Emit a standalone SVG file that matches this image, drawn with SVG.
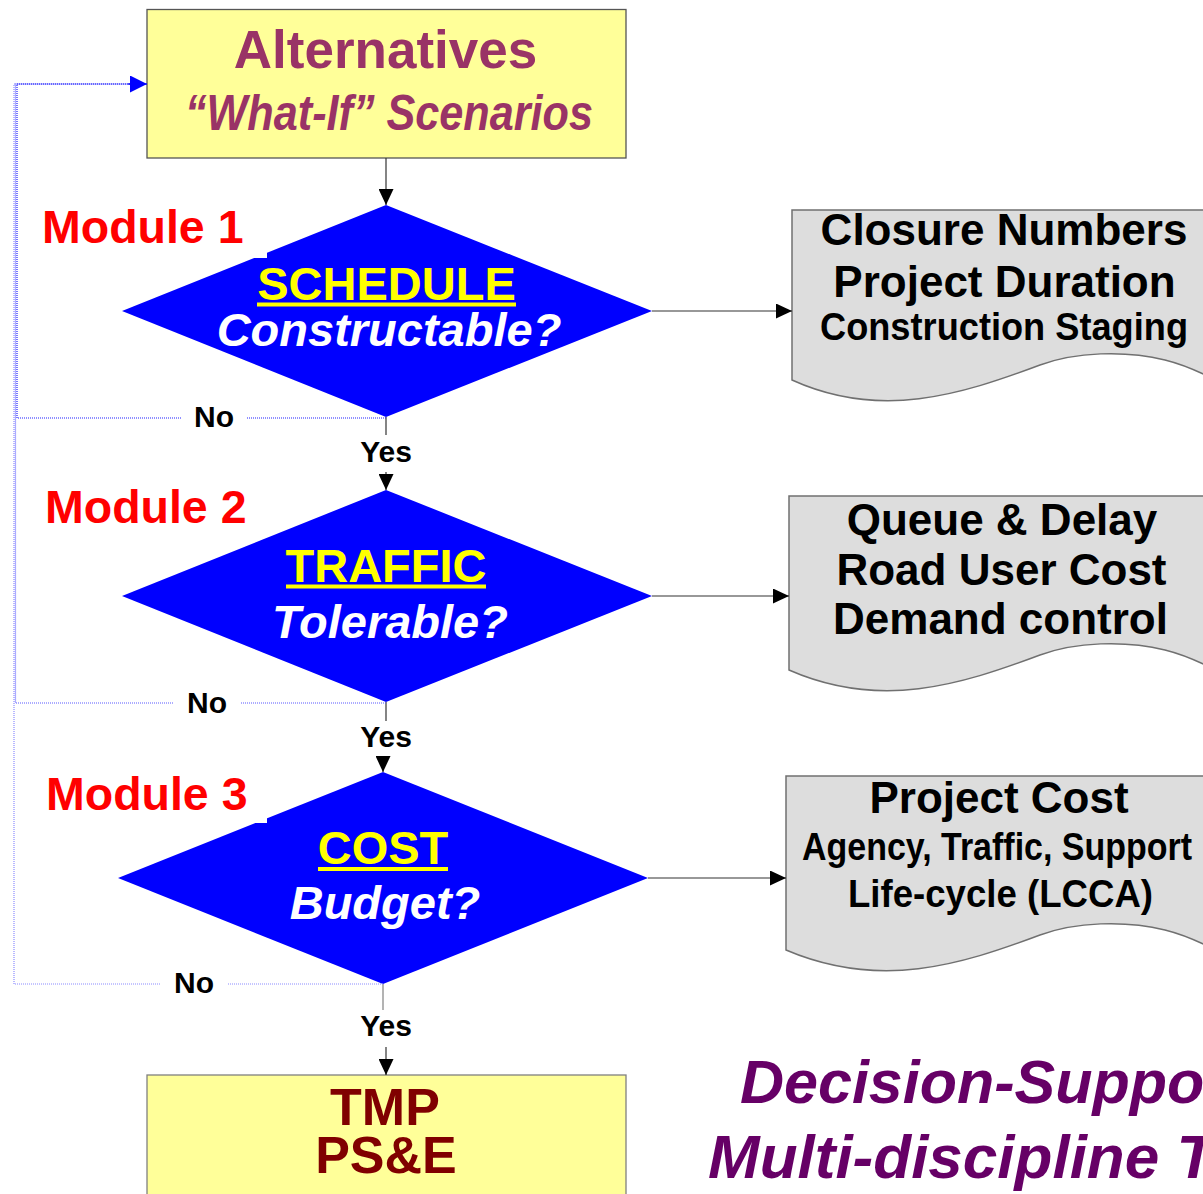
<svg xmlns="http://www.w3.org/2000/svg" width="1203" height="1194" viewBox="0 0 1203 1194">
  <style>
    .sans { font-family: "Liberation Sans", Arial, sans-serif; font-weight: bold; }
    .ital { font-style: italic; }
    .box { fill: #FFFF99; stroke: #555555; stroke-width: 1.3; }
    .dia { fill: #0000FF; }
    .doc { fill: #DDDDDD; stroke: #707070; stroke-width: 1.5; }
    .mod { fill: #FF0000; font-size: 46.5px; }
    .head { fill: #FFFF00; font-size: 47px; }
    .q { fill: #FFFFFF; font-size: 47px; }
    .lbl { fill: #000000; font-size: 30px; }
    .out { fill: #000000; font-size: 44px; }
    .outn { fill: #000000; font-size: 39px; }
    .link { stroke: #333333; stroke-width: 1.2; fill: none; }
    .loop { stroke-width: 1.2; fill: none; stroke-dasharray: 1 1; }
  </style>
  <defs>
    <marker id="ah" markerWidth="16" markerHeight="15" refX="16" refY="7.5" orient="auto" markerUnits="userSpaceOnUse">
      <path d="M0,0 L16,7.5 L0,15 Z" fill="#000000"/>
    </marker>
    <marker id="ahBlue" markerWidth="17" markerHeight="17" refX="17" refY="8.5" orient="auto" markerUnits="userSpaceOnUse">
      <path d="M0,0 L17,8.5 L0,17 Z" fill="#0000FF"/>
    </marker>
  </defs>

  <rect x="0" y="0" width="1203" height="1194" fill="#FFFFFF"/>

  <!-- start box -->
  <g id="alternatives">
    <rect class="box" x="147" y="9.5" width="479" height="148.5"/>
    <text class="sans" x="385.5" y="68" font-size="53" fill="#993366" text-anchor="middle">Alternatives</text>
    <text class="sans ital" x="389" y="130" font-size="50" fill="#993366" text-anchor="middle" textLength="408" lengthAdjust="spacingAndGlyphs">“What-If” Scenarios</text>
  </g>

  <!-- decision: schedule -->
  <g id="module1">
    <polygon class="dia" points="386,205 652,311 386,417 122,311"/>
    <rect x="30" y="200" width="237" height="58" fill="#FFFFFF"/>
    <text class="sans mod" x="42" y="243">Module 1</text>
    <text class="sans head" x="386.5" y="300" text-anchor="middle">SCHEDULE</text>
    <rect x="257" y="302.5" width="259" height="4" fill="#FFFF00"/>
    <text class="sans ital q" x="389" y="346" text-anchor="middle">Constructable?</text>
  </g>

  <!-- decision: traffic -->
  <g id="module2">
    <polygon class="dia" points="386,490 652,596 386,702 122,596"/>
    <text class="sans mod" x="45" y="523">Module 2</text>
    <text class="sans head" x="386" y="582" text-anchor="middle">TRAFFIC</text>
    <rect x="286" y="584.5" width="200" height="4" fill="#FFFF00"/>
    <text class="sans ital q" x="390" y="638" text-anchor="middle">Tolerable?</text>
  </g>

  <!-- decision: cost -->
  <g id="module3">
    <polygon class="dia" points="383,772 648,878 383,984 118,878"/>
    <rect x="30" y="765" width="237" height="58" fill="#FFFFFF"/>
    <text class="sans mod" x="46" y="810">Module 3</text>
    <text class="sans head" x="383" y="864" text-anchor="middle">COST</text>
    <rect x="318" y="867" width="130" height="4" fill="#FFFF00"/>
    <text class="sans ital q" x="385" y="919" text-anchor="middle">Budget?</text>
  </g>

  <!-- outputs -->
  <g id="output1">
    <path class="doc" d="M792,380 V210 H1215 V380 C1200,372 1185,365 1165,360 C1125,350 1075,352 1040,365 C960,395 880,420 792,380 Z"/>
    <text class="sans out" x="1004" y="245" text-anchor="middle">Closure Numbers</text>
    <text class="sans out" x="1004.5" y="297" text-anchor="middle">Project Duration</text>
    <text class="sans outn" x="1004" y="340" text-anchor="middle" textLength="368" lengthAdjust="spacingAndGlyphs">Construction Staging</text>
  </g>

  <g id="output2">
    <path class="doc" d="M789,670 V496 H1215 V670 C1200,662 1185,655 1165,650 C1125,640 1075,642 1040,655 C960,685 880,710 789,670 Z"/>
    <text class="sans out" x="1002" y="535" text-anchor="middle">Queue &amp; Delay</text>
    <text class="sans out" x="1001.5" y="585" text-anchor="middle">Road User Cost</text>
    <text class="sans out" x="1000.5" y="634" text-anchor="middle">Demand control</text>
  </g>

  <g id="output3">
    <path class="doc" d="M786,950 V776 H1215 V950 C1200,942 1185,935 1165,930 C1125,920 1075,922 1040,935 C960,965 880,990 786,950 Z"/>
    <text class="sans out" x="999" y="813" text-anchor="middle">Project Cost</text>
    <text class="sans outn" x="997" y="860" text-anchor="middle" textLength="390" lengthAdjust="spacingAndGlyphs">Agency, Traffic, Support</text>
    <text class="sans outn" x="1000.5" y="907" text-anchor="middle" textLength="305" lengthAdjust="spacingAndGlyphs">Life-cycle (LCCA)</text>
  </g>

  <!-- end box -->
  <g id="tmp">
    <rect class="box" x="147" y="1075" width="479" height="130" style="stroke:#808080"/>
    <text class="sans" x="385" y="1125" font-size="52" fill="#800000" text-anchor="middle">TMP</text>
    <text class="sans" x="386" y="1173" font-size="52" fill="#800000" text-anchor="middle">PS&amp;E</text>
  </g>

  <!-- title -->
  <g id="title">
    <text class="sans ital" x="740" y="1103" font-size="61" fill="#660066">Decision-Support</text>
    <text class="sans ital" x="708" y="1178" font-size="62" fill="#660066">Multi-discipline T</text>
  </g>

  <g id="connectors">
    <!-- main flow -->
    <line class="link" x1="386" y1="158" x2="386" y2="205" marker-end="url(#ah)"/>
    <line class="link" x1="386" y1="417" x2="386" y2="435"/>
    <line class="link" x1="386" y1="472" x2="386" y2="490" marker-end="url(#ah)"/>
    <line class="link" x1="386" y1="702" x2="386" y2="721"/>
    <line class="link" x1="383" y1="756" x2="383" y2="772" marker-end="url(#ah)"/>
    <line class="link" x1="383" y1="984" x2="383" y2="1010" style="stroke:#808080"/>
    <line class="link" x1="386" y1="1047" x2="386" y2="1075" marker-end="url(#ah)"/>
    <!-- outputs -->
    <line class="link" x1="652" y1="311" x2="792" y2="311" marker-end="url(#ah)"/>
    <line class="link" x1="652" y1="596" x2="789" y2="596" marker-end="url(#ah)"/>
    <line class="link" x1="648" y1="878" x2="786" y2="878" marker-end="url(#ah)"/>
    <!-- "No" loops back to the alternatives -->
    <path class="loop" stroke="#8c8cff" d="M383,984 H227 M160,984 H14 V84 H132"/>
    <path class="loop" stroke="#5a5aff" d="M386,703 H240 M173,703 H15.5 V84 H132"/>
    <path class="loop" stroke="#2222ff" d="M386,418 H247 M181,418 H17 V84 H130"/>
    <line x1="128" y1="84" x2="147" y2="84" stroke="#0000FF" stroke-width="1.2" marker-end="url(#ahBlue)"/>
    <!-- branch labels -->
    <text class="sans lbl" x="214" y="427" text-anchor="middle">No</text>
    <text class="sans lbl" x="207" y="713" text-anchor="middle">No</text>
    <text class="sans lbl" x="194" y="993" text-anchor="middle">No</text>
    <text class="sans lbl" x="386" y="462" text-anchor="middle">Yes</text>
    <text class="sans lbl" x="386" y="747" text-anchor="middle">Yes</text>
    <text class="sans lbl" x="386" y="1036" text-anchor="middle">Yes</text>
  </g>
</svg>
